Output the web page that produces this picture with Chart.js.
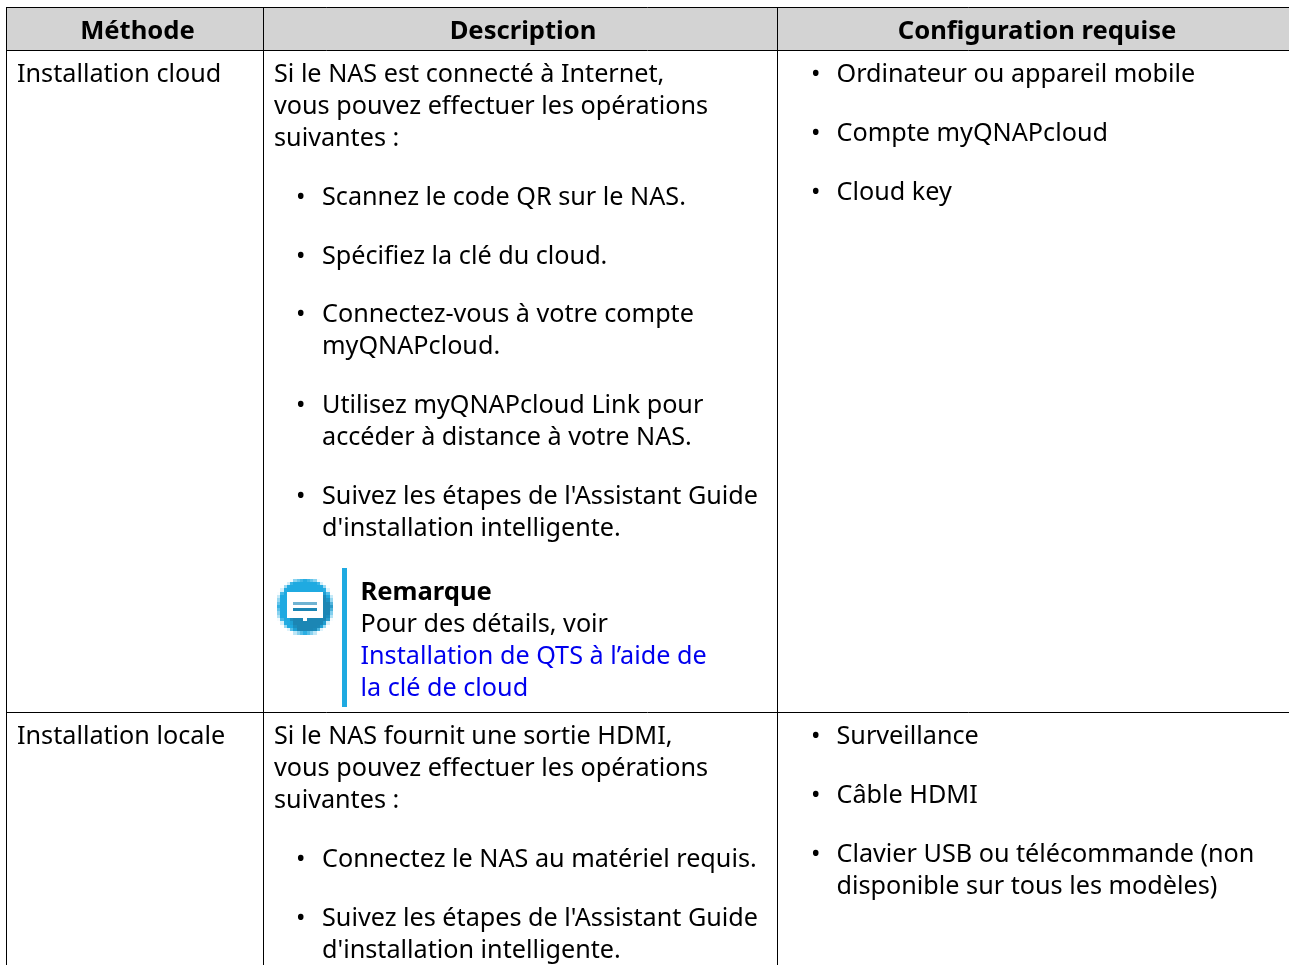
<!DOCTYPE html>
<html lang="fr">
<head>
<meta charset="utf-8">
<title>Méthodes d'installation</title>
<script src="https://cdn.jsdelivr.net/npm/chart.js@4/dist/chart.umd.min.js"></script>
<style>
  html, body { margin: 0; padding: 0; background: #fff; overflow: hidden; }
  canvas { display: block; }
</style>
</head>
<body>
<canvas id="table-chart" width="1289" height="965"></canvas>
<script>
  'use strict';

  // Table content
  const headers = ['Méthode', 'Description', 'Configuration requise'];
  const methods = ['Installation cloud', 'Installation locale'];

  const cloudIntro = ['Si le NAS est connecté à Internet,', 'vous pouvez effectuer les opérations', 'suivantes :'];
  const cloudSteps = [
    ['Scannez le code QR sur le NAS.'],
    ['Spécifiez la clé du cloud.'],
    ['Connectez-vous à votre compte', 'myQNAPcloud.'],
    ['Utilisez myQNAPcloud Link pour', 'accéder à distance à votre NAS.'],
    ["Suivez les étapes de l'Assistant Guide", "d'installation intelligente."]
  ];
  const noteTitle = 'Remarque';
  const noteText = 'Pour des détails, voir';
  const noteLink = ['Installation de QTS à l’aide de', 'la clé de cloud'];
  const cloudNeeds = [['Ordinateur ou appareil mobile'], ['Compte myQNAPcloud'], ['Cloud key']];

  const localIntro = ['Si le NAS fournit une sortie HDMI,', 'vous pouvez effectuer les opérations', 'suivantes :'];
  const localSteps = [
    ['Connectez le NAS au matériel requis.'],
    ["Suivez les étapes de l'Assistant Guide", "d'installation intelligente."]
  ];
  const localNeeds = [
    ['Surveillance'],
    ['Câble HDMI'],
    ['Clavier USB ou télécommande (non', 'disponible sur tous les modèles)']
  ];

  // Table frame, in scale units
  const columnEdges = [6, 263, 777];
  const headerCenters = [137.5, 523, 1037];
  const rowEdges = [7, 50, 712];

  const FONT = '"Noto Sans", sans-serif';
  const LINE = 32;
  const GAP = 26.8;

  function drawLines(ctx, lines, x, y) {
    lines.forEach(function (line, i) {
      ctx.fillText(line, x, y + i * LINE);
    });
    return y + lines.length * LINE + GAP;
  }

  function drawBullets(ctx, items, dotX, textX, y) {
    items.forEach(function (lines) {
      ctx.fillText('•', dotX, y);
      y = drawLines(ctx, lines, textX, y);
    });
    return y;
  }

  // Rough low-res note icon, scaled up to keep the blocky look of the original
  function drawNoteIcon(ctx, x, y) {
    const off = document.createElement('canvas');
    off.width = 17;
    off.height = 17;
    const c = off.getContext('2d');
    c.fillStyle = '#1faae1';
    c.beginPath();
    c.arc(8.5, 8.5, 8.4, 0, Math.PI * 2);
    c.fill();
    c.fillStyle = '#1c86b4';
    c.beginPath();
    c.moveTo(14, 4);
    c.lineTo(16.6, 8);
    c.lineTo(15.5, 12.5);
    c.lineTo(11.5, 16);
    c.lineTo(6, 16);
    c.lineTo(4, 12);
    c.closePath();
    c.fill();
    c.fillStyle = '#ffffff';
    c.fillRect(3, 4, 11, 8);
    c.fillRect(8, 12, 1, 1);
    c.fillStyle = '#6fb3d2';
    c.fillRect(5, 7, 7, 1);
    c.fillStyle = '#1c86b4';
    c.fillRect(5, 9, 7, 1);
    ctx.imageSmoothingEnabled = false;
    ctx.drawImage(off, x, y, 56, 56);
  }

  const tablePlugin = {
    id: 'tablePlugin',
    beforeDatasetsDraw: function (chart) {
      const ctx = chart.ctx;
      const sx = chart.scales.x;
      const sy = chart.scales.y;
      ctx.save();
      ctx.fillStyle = '#d3d3d3';
      ctx.fillRect(sx.getPixelForValue(columnEdges[0]), sy.getPixelForValue(rowEdges[0]), sx.right, rowEdges[1] - rowEdges[0]);
      ctx.restore();
    },
    afterDatasetsDraw: function (chart) {
      const ctx = chart.ctx;
      const sx = chart.scales.x;
      const sy = chart.scales.y;
      const px = function (v) { return sx.getPixelForValue(v); };
      const py = function (v) { return sy.getPixelForValue(v); };

      // grid on top of the header band
      ctx.save();
      ctx.strokeStyle = '#000';
      ctx.lineWidth = 1;
      ctx.beginPath();
      columnEdges.forEach(function (v) {
        ctx.moveTo(px(v) + 0.5, py(rowEdges[0]));
        ctx.lineTo(px(v) + 0.5, sy.bottom);
      });
      rowEdges.forEach(function (v) {
        ctx.moveTo(px(columnEdges[0]), py(v) + 0.5);
        ctx.lineTo(sx.right, py(v) + 0.5);
      });
      ctx.stroke();

      ctx.textBaseline = 'alphabetic';
      ctx.fillStyle = '#000';

      // header
      ctx.font = 'bold 25.6px ' + FONT;
      ctx.textAlign = 'center';
      headers.forEach(function (h, i) {
        ctx.fillText(h, px(headerCenters[i]), py(39));
      });

      ctx.font = '25.2px ' + FONT;
      ctx.textAlign = 'left';

      // first row
      ctx.fillText(methods[0], px(17), py(82));
      let y = drawLines(ctx, cloudIntro, px(274), py(82));
      y = drawBullets(ctx, cloudSteps, px(296), px(322), y);
      drawBullets(ctx, cloudNeeds, px(811), px(836.5), py(82));

      // note block
      ctx.fillStyle = '#1faae1';
      ctx.fillRect(px(342), py(568), 5, 139);
      drawNoteIcon(ctx, px(277), py(578.5));
      ctx.fillStyle = '#000';
      ctx.font = 'bold 25.6px ' + FONT;
      ctx.fillText(noteTitle, px(360.5), py(600));
      ctx.font = '25.2px ' + FONT;
      ctx.fillText(noteText, px(360.5), py(632));
      ctx.fillStyle = '#0000ee';
      drawLines(ctx, noteLink, px(360.5), py(664));
      ctx.fillStyle = '#000';

      // second row
      ctx.fillText(methods[1], px(17), py(744));
      y = drawLines(ctx, localIntro, px(274), py(744));
      drawBullets(ctx, localSteps, px(296), px(322), y);
      drawBullets(ctx, localNeeds, px(811), px(836.5), py(744));
      ctx.restore();
    }
  };

  new Chart(document.getElementById('table-chart'), {
    type: 'scatter',
    data: { datasets: [] },
    plugins: [tablePlugin],
    options: {
      responsive: false,
      animation: false,
      layout: { padding: 0 },
      plugins: { legend: { display: false }, tooltip: { enabled: false } },
      scales: {
        x: { type: 'linear', min: 0, max: 1289, display: false },
        y: { type: 'linear', min: 0, max: 965, reverse: true, display: false }
      }
    }
  });
</script>
</body>
</html>
